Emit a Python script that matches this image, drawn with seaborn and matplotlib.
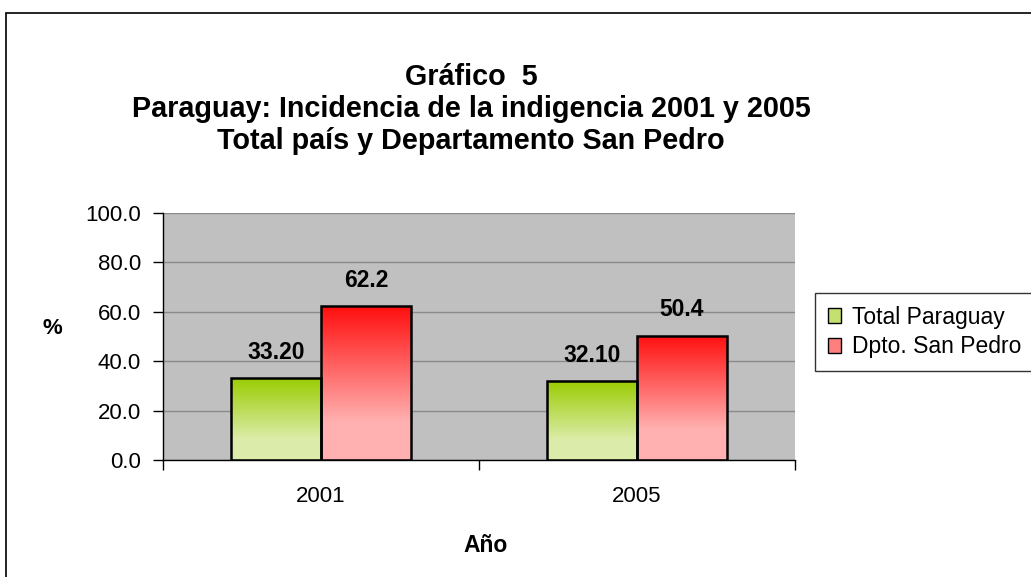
import numpy as np
import pandas as pd
import matplotlib
matplotlib.use('Agg')
import matplotlib.pyplot as plt
from matplotlib.patches import Patch, Rectangle
from matplotlib.colors import to_rgb
import seaborn as sns

# Datos del gráfico
anios = ['2001', '2005']
series = ['Total Paraguay', 'Dpto. San Pedro']
total_paraguay = [33.20, 32.10]
san_pedro = [62.2, 50.4]
etiquetas_total = ['33.20', '32.10']
etiquetas_sp = ['62.2', '50.4']

df = pd.DataFrame({
    'Año': anios * 2,
    'Serie': [series[0]] * 2 + [series[1]] * 2,
    'Valor': total_paraguay + san_pedro,
})

# Colores del degradado (arriba -> abajo)
grad_verde = ('#99cc00', '#dcecaa')
grad_rojo = ('#ff0f0f', '#ffb0b0')

sns.set_style('white')
plt.rcParams['font.family'] = ['Liberation Sans', 'DejaVu Sans']
plt.rcParams['text.color'] = 'black'
plt.rcParams['xtick.color'] = 'black'
plt.rcParams['ytick.color'] = 'black'

fig = plt.figure(figsize=(10.31, 5.77), dpi=100)
ax = fig.add_axes([163 / 1031, 1 - 460 / 577, (795 - 163) / 1031, (460 - 213) / 577])

sns.barplot(data=df, x='Año', y='Valor', hue='Serie', order=anios, hue_order=series,
            palette=[grad_verde[0], grad_rojo[0]], width=0.57, gap=0, ax=ax,
            legend=False, errorbar=None)

ax.set_ylim(0, 100)
ax.set_xlim(-0.5, 1.5)
ax.set_facecolor('#c0c0c0')
ax.set_yticks(np.arange(0, 101, 20))
ax.set_yticklabels([f'{v:.1f}' for v in np.arange(0, 101, 20)], fontsize=16)
ax.tick_params(axis='x', labelsize=16, length=0, pad=19)
ax.tick_params(axis='y', left=True, length=7, width=1, color='black', pad=9)
ax.set_xticks([-0.5, 0.5, 1.5], minor=True)
ax.tick_params(axis='x', which='minor', bottom=True, length=7, width=1, color='black')
ax.yaxis.grid(True, color='#8a8a8a', lw=1)
ax.set_axisbelow(True)
for s in ['top', 'right']:
    ax.spines[s].set_visible(False)
for s in ['left', 'bottom']:
    ax.spines[s].set_color('black')
    ax.spines[s].set_linewidth(1)
ax.set_xlabel('')
ax.set_ylabel('')


def gradiente(c_top, c_bot, n=200):
    t = np.linspace(0, 1, n)
    f = np.clip(t / 0.75, 0, 1)[:, None]
    c = np.array(to_rgb(c_top)) * (1 - f) + np.array(to_rgb(c_bot)) * f
    return c[:, None, :]


# degradado dentro de cada barra
barras = [p for p in ax.patches if p.get_height() > 0]
grads = [grad_verde, grad_verde, grad_rojo, grad_rojo]
for p, g in zip(barras, grads):
    x0, y0 = p.get_x(), p.get_y()
    w, h = p.get_width(), p.get_height()
    im = ax.imshow(gradiente(*g), extent=[x0, x0 + w, y0, y0 + h], aspect='auto',
                   zorder=2, origin='upper')
    im.set_clip_path(p)
    p.set_facecolor('none')
    p.set_edgecolor('black')
    p.set_linewidth(1.8)
    p.set_zorder(3)

ax.set_xlim(-0.5, 1.5)
ax.set_ylim(0, 100)

# etiquetas de datos
for p, txt in zip(barras, etiquetas_total + etiquetas_sp):
    ax.annotate(txt, (p.get_x() + p.get_width() / 2, p.get_height()),
                xytext=(0, 18.5), textcoords='offset points', ha='center', va='center',
                fontsize=16.5, fontweight='bold')

# títulos
for y, t in [(77, 'Gráfico  5'),
             (109, 'Paraguay: Incidencia de la indigencia 2001 y 2005'),
             (141, 'Total país y Departamento San Pedro')]:
    fig.text(471 / 1031, 1 - y / 577, t, ha='center', va='center',
             fontsize=20.7, fontweight='bold')
fig.text(52 / 1031, 1 - 328 / 577, '%', ha='center', va='center', fontsize=16,
         fontweight='bold')
fig.text(486 / 1031, 1 - 545 / 577, 'Año', ha='center', va='center', fontsize=16.5,
         fontweight='bold')

# leyenda
handles = [Patch(facecolor='#c4e070', edgecolor='black', lw=1),
           Patch(facecolor='#ff7f7f', edgecolor='black', lw=1)]
leg = fig.legend(handles, series, loc='upper left', bbox_to_anchor=(815 / 1031, 1 - 293 / 577),
                 fontsize=16.5, frameon=True, fancybox=False, edgecolor='black',
                 handlelength=0.6, handleheight=0.6, handletextpad=0.45,
                 borderpad=0.55, labelspacing=0.3, borderaxespad=0)
leg.get_frame().set_linewidth(1)

# marco exterior
fig.patches.append(Rectangle((6 / 1031, -0.1), 1.2, 1 - 13 / 577 + 0.1,
                             transform=fig.transFigure, fill=False,
                             edgecolor='black', lw=1.2))

plt.savefig('out.png', dpi=100)
plt.close()
